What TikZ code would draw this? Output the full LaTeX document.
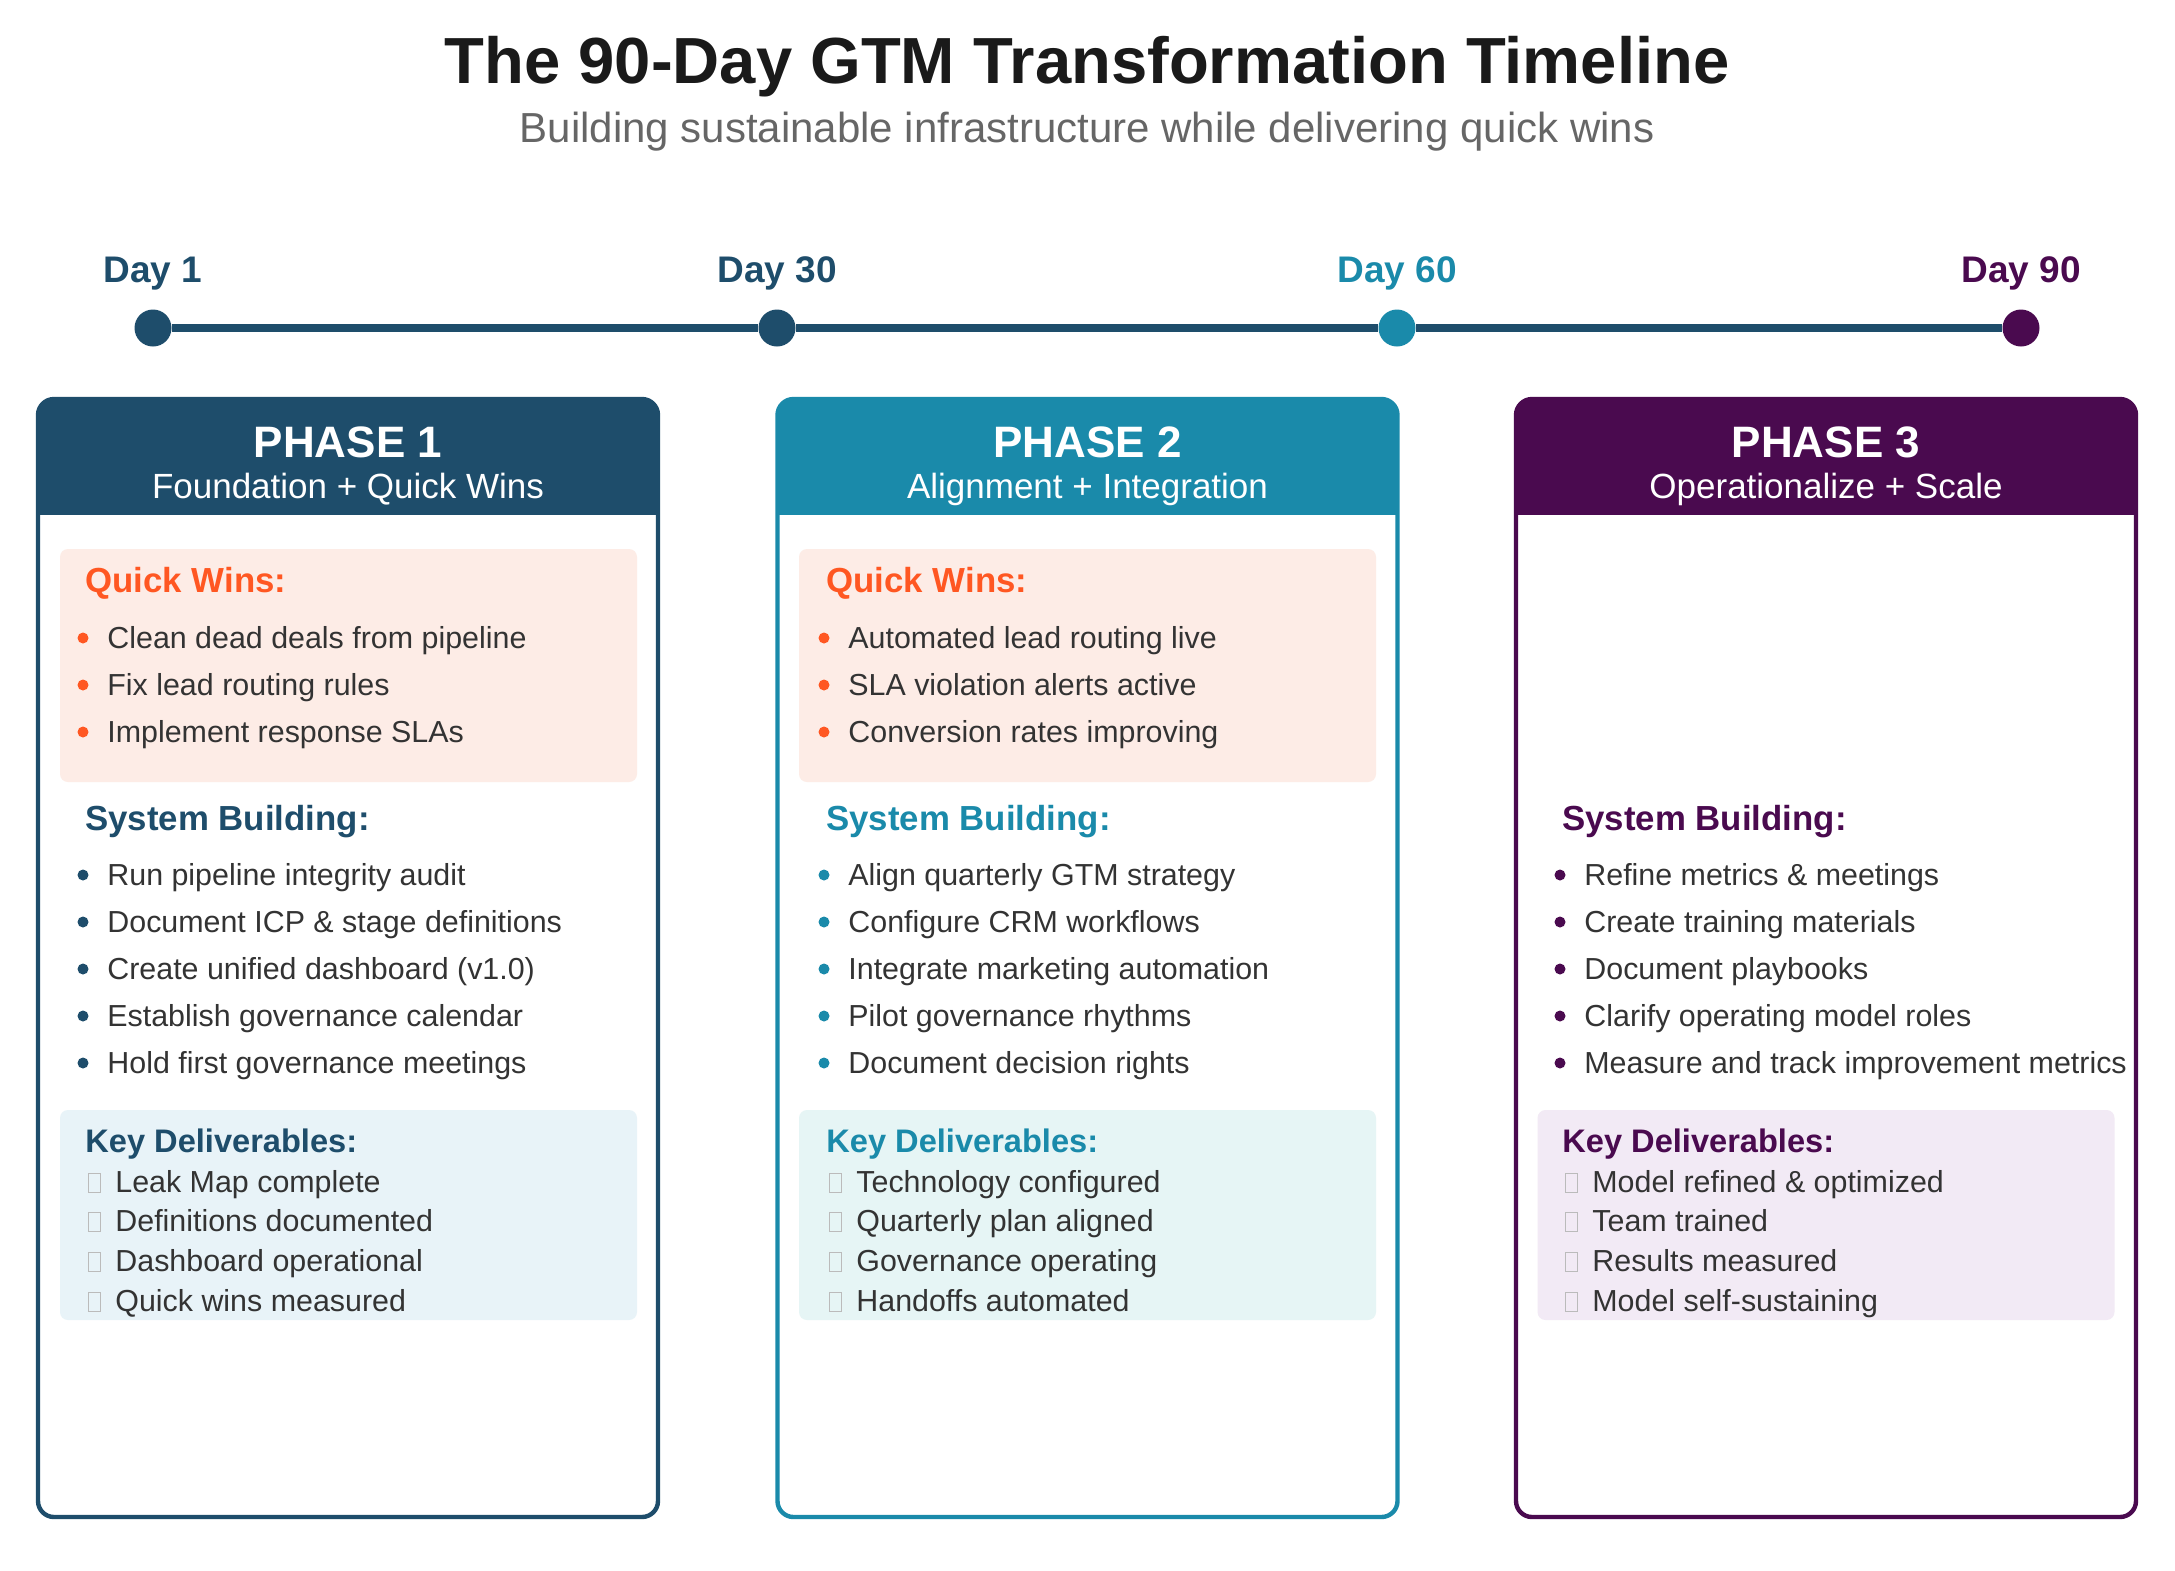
\documentclass[tikz,border=0pt]{standalone}
\usepackage{fontspec}
\setmainfont{Liberation Sans}
\definecolor{pone}{HTML}{1E4D6B}
\definecolor{ptwo}{HTML}{1A8AAA}
\definecolor{pthree}{HTML}{4A0A4F}
\definecolor{qorange}{HTML}{FF5722}
\definecolor{qbg}{HTML}{FDECE6}
\definecolor{donebg}{HTML}{E8F3F8}
\definecolor{dtwobg}{HTML}{E6F5F5}
\definecolor{dthreebg}{HTML}{F2EAF5}
\definecolor{txtgray}{HTML}{333333}
\definecolor{subgray}{HTML}{666666}
\definecolor{titleblack}{HTML}{1A1A1A}
\definecolor{boxgray}{HTML}{BBBBBB}
\begin{document}
\begin{tikzpicture}[x=0.5pt, y=-0.5pt,
	card/.style={draw=#1, line width=2.2pt, fill=white, rounded corners=8pt, minimum width=310pt, minimum height=559pt, inner sep=0pt,
		path picture={\fill[#1, sharp corners] (path picture bounding box.north west) rectangle ([yshift=-58pt]path picture bounding box.north east);}},
	qbox/.style={fill=qbg, rounded corners=4pt, minimum width=288.5pt, minimum height=116.5pt, inner sep=0pt},
	dbox/.style={fill=#1, rounded corners=4pt, minimum width=288.5pt, minimum height=105pt, inner sep=0pt},
	dot/.style={circle, fill=#1, minimum size=18.5pt, inner sep=0pt},
	daylbl/.style={font=\bfseries\fontsize{18.5}{22}\selectfont, text=#1, anchor=base, inner sep=0pt},
	phase/.style={font=\bfseries\fontsize{22}{26}\selectfont, text=white, anchor=base, inner sep=0pt},
	phasesub/.style={font=\fontsize{17.5}{21}\selectfont, text=white, anchor=base, inner sep=0pt},
	head/.style={font=\bfseries\fontsize{17.4}{21}\selectfont, text=#1, anchor=base west, inner sep=0pt},
	dhead/.style={font=\bfseries\fontsize{16.3}{19}\selectfont, text=#1, anchor=base west, inner sep=0pt},
	item/.style={font=\fontsize{15.2}{18}\selectfont, text=txtgray, anchor=base west, inner sep=0pt},
	ditem/.style={font=\fontsize{15.2}{18}\selectfont, text=txtgray, anchor=base west, inner sep=0pt}]
	\useasboundingbox (0,0) rectangle (2175,1570);

	\node[font=\bfseries\fontsize{32.6}{38}\selectfont, text=titleblack, anchor=base] (title) at (1087,83) {The 90-Day GTM Transformation Timeline};
	\node[font=\fontsize{21}{25}\selectfont, text=subgray, anchor=base] (subtitle) at (1087,142) {Building sustainable infrastructure while delivering quick wins};

	\node[daylbl=pone] (l1) at (153,282) {Day 1};
	\node[daylbl=pone] (l30) at (777,282) {Day 30};
	\node[daylbl=ptwo] (l60) at (1397,282) {Day 60};
	\node[daylbl=pthree] (l90) at (2021,282) {Day 90};
	\node[dot=pone] (d1) at (153,328) {};
	\node[dot=pone] (d30) at (777,328) {};
	\node[dot=ptwo] (d60) at (1397,328) {};
	\node[dot=pthree] (d90) at (2021,328) {};
	\draw[pone, line width=4.4pt] (d1) -- (d30) (d30) -- (d60) (d60) -- (d90);

	\node[card=pone] (card1) at (348,958) {};
	\node[card=ptwo] (card2) at (1087.5,958) {};
	\node[card=pthree] (card3) at (1826,958) {};

	\node[phase] (p1t) at (348,457) {PHASE 1};
	\node[phasesub] (p1s) at (348,498) {Foundation + Quick Wins};
	\node[phase] (p2t) at (1087.5,457) {PHASE 2};
	\node[phasesub] (p2s) at (1087.5,498) {Alignment + Integration};
	\node[phase] (p3t) at (1826,457) {PHASE 3};
	\node[phasesub] (p3s) at (1826,498) {Operationalize + Scale};

	\node[qbox] (p1q) at (348.5,665.5) {};
	\node[qbox] (p2q) at (1087.5,665.5) {};
	\node[dbox=donebg] (p1d) at (348.5,1215) {};
	\node[dbox=dtwobg] (p2d) at (1087.5,1215) {};
	\node[dbox=dthreebg] (p3d) at (1826,1215) {};

	\node[head=qorange] (p1qh) at (85,592) {Quick Wins:};
	\fill[qorange] (83,638) circle[radius=2.75pt];
	\node[item] (p1q1) at (107,648) {Clean dead deals from pipeline};
	\fill[qorange] (83,685) circle[radius=2.75pt];
	\node[item] (p1q2) at (107,695) {Fix lead routing rules};
	\fill[qorange] (83,732) circle[radius=2.75pt];
	\node[item] (p1q3) at (107,742) {Implement response SLAs};
	\node[head=pone] (p1sh) at (85,830) {System Building:};
	\fill[pone] (83,875) circle[radius=2.75pt];
	\node[item] (p1s1) at (107,885) {Run pipeline integrity audit};
	\fill[pone] (83,922) circle[radius=2.75pt];
	\node[item] (p1s2) at (107,932) {Document ICP \& stage definitions};
	\fill[pone] (83,969) circle[radius=2.75pt];
	\node[item] (p1s3) at (107,979) {Create unified dashboard (v1.0)};
	\fill[pone] (83,1016) circle[radius=2.75pt];
	\node[item] (p1s4) at (107,1026) {Establish governance calendar};
	\fill[pone] (83,1063) circle[radius=2.75pt];
	\node[item] (p1s5) at (107,1073) {Hold first governance meetings};
	\node[dhead=pone] (p1dh) at (85,1152) {Key Deliverables:};
	\draw[boxgray] (88,1173) rectangle (100,1192);
	\node[ditem] (p1d1) at (115,1192) {Leak Map complete};
	\draw[boxgray] (88,1212) rectangle (100,1231);
	\node[ditem] (p1d2) at (115,1231) {Definitions documented};
	\draw[boxgray] (88,1252) rectangle (100,1271);
	\node[ditem] (p1d3) at (115,1271) {Dashboard operational};
	\draw[boxgray] (88,1292) rectangle (100,1311);
	\node[ditem] (p1d4) at (115,1311) {Quick wins measured};

	\node[head=qorange] (p2qh) at (826,592) {Quick Wins:};
	\fill[qorange] (824,638) circle[radius=2.75pt];
	\node[item] (p2q1) at (848,648) {Automated lead routing live};
	\fill[qorange] (824,685) circle[radius=2.75pt];
	\node[item] (p2q2) at (848,695) {SLA violation alerts active};
	\fill[qorange] (824,732) circle[radius=2.75pt];
	\node[item] (p2q3) at (848,742) {Conversion rates improving};
	\node[head=ptwo] (p2sh) at (826,830) {System Building:};
	\fill[ptwo] (824,875) circle[radius=2.75pt];
	\node[item] (p2s1) at (848,885) {Align quarterly GTM strategy};
	\fill[ptwo] (824,922) circle[radius=2.75pt];
	\node[item] (p2s2) at (848,932) {Configure CRM workflows};
	\fill[ptwo] (824,969) circle[radius=2.75pt];
	\node[item] (p2s3) at (848,979) {Integrate marketing automation};
	\fill[ptwo] (824,1016) circle[radius=2.75pt];
	\node[item] (p2s4) at (848,1026) {Pilot governance rhythms};
	\fill[ptwo] (824,1063) circle[radius=2.75pt];
	\node[item] (p2s5) at (848,1073) {Document decision rights};
	\node[dhead=ptwo] (p2dh) at (826,1152) {Key Deliverables:};
	\draw[boxgray] (829,1173) rectangle (841,1192);
	\node[ditem] (p2d1) at (856,1192) {Technology configured};
	\draw[boxgray] (829,1212) rectangle (841,1231);
	\node[ditem] (p2d2) at (856,1231) {Quarterly plan aligned};
	\draw[boxgray] (829,1252) rectangle (841,1271);
	\node[ditem] (p2d3) at (856,1271) {Governance operating};
	\draw[boxgray] (829,1292) rectangle (841,1311);
	\node[ditem] (p2d4) at (856,1311) {Handoffs automated};

	\node[head=pthree] (p3sh) at (1562,830) {System Building:};
	\fill[pthree] (1560,875) circle[radius=2.75pt];
	\node[item] (p3s1) at (1584,885) {Refine metrics \& meetings};
	\fill[pthree] (1560,922) circle[radius=2.75pt];
	\node[item] (p3s2) at (1584,932) {Create training materials};
	\fill[pthree] (1560,969) circle[radius=2.75pt];
	\node[item] (p3s3) at (1584,979) {Document playbooks};
	\fill[pthree] (1560,1016) circle[radius=2.75pt];
	\node[item] (p3s4) at (1584,1026) {Clarify operating model roles};
	\fill[pthree] (1560,1063) circle[radius=2.75pt];
	\node[item] (p3s5) at (1584,1073) {Measure and track improvement metrics};
	\node[dhead=pthree] (p3dh) at (1562,1152) {Key Deliverables:};
	\draw[boxgray] (1565,1173) rectangle (1577,1192);
	\node[ditem] (p3d1) at (1592,1192) {Model refined \& optimized};
	\draw[boxgray] (1565,1212) rectangle (1577,1231);
	\node[ditem] (p3d2) at (1592,1231) {Team trained};
	\draw[boxgray] (1565,1252) rectangle (1577,1271);
	\node[ditem] (p3d3) at (1592,1271) {Results measured};
	\draw[boxgray] (1565,1292) rectangle (1577,1311);
	\node[ditem] (p3d4) at (1592,1311) {Model self-sustaining};
\end{tikzpicture}
\end{document}
